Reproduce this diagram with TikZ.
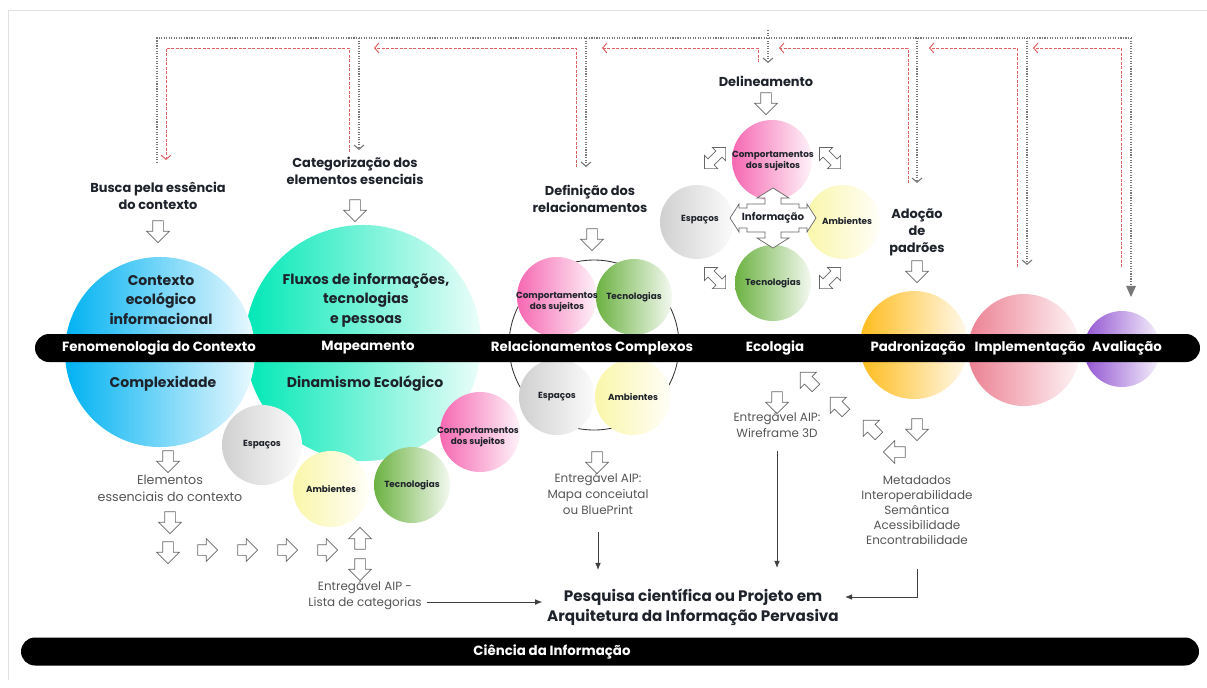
\documentclass[tikz,border=0pt]{standalone}
\usepackage{fontspec}
\setmainfont{Poppins}
\usetikzlibrary{arrows.meta,positioning,shapes.geometric,shapes.arrows,calc}
\definecolor{ink}{RGB}{30,34,42}
\definecolor{soft}{RGB}{85,85,85}
\definecolor{loopred}{RGB}{222,95,95}
\definecolor{loopgray}{RGB}{120,120,120}
\definecolor{ctxblue}{RGB}{0,178,242}
\definecolor{mapteal}{RGB}{0,232,182}
\definecolor{spgray}{RGB}{208,208,208}
\definecolor{ambyel}{RGB}{250,246,170}
\definecolor{tecgreen}{RGB}{108,178,66}
\definecolor{cmppink}{RGB}{246,104,178}
\definecolor{padorange}{RGB}{255,188,28}
\definecolor{improse}{RGB}{236,128,146}
\definecolor{avlviolet}{RGB}{146,84,210}
\tikzset{
  ball/.style 2 args = {circle, inner sep=0pt, minimum size=#1*0.05cm, left color=#2, right color=#2!8!white},
  tag/.style = {align=center, text=ink, font=\bfseries\fontsize{6.3}{8}\selectfont},
  title/.style = {align=center, text=ink, font=\bfseries\fontsize{10}{14}\selectfont},
  cue/.style = {align=center, text=ink, font=\bfseries\fontsize{9.2}{12}\selectfont},
  note/.style = {align=center, text=soft, font=\fontsize{8.5}{11.3}\selectfont},
  band/.style = {rectangle, fill=black, rounded corners=0.35cm, inner sep=0pt, minimum height=0.7cm},
  bandlabel/.style = {text=white, font=\bfseries\fontsize{9.5}{11}\selectfont},
  hollow/.style = {single arrow, draw=black!60, fill=white, line width=0.5pt, inner xsep=0pt, inner ysep=5*0.025cm,
    minimum height=22*0.025cm, single arrow head extend=6*0.025cm},
  pointdown/.style = {hollow, rotate=-90},
  pointright/.style = {hollow},
  pointup/.style = {hollow, rotate=90},
  pointleft/.style = {hollow, rotate=180},
  pointnw/.style = {hollow, rotate=135},
  twoway/.style = {double arrow, draw=black!60, fill=white, line width=0.5pt, inner xsep=0pt, inner ysep=4*0.025cm,
    minimum height=30*0.025cm, double arrow head extend=5*0.025cm},
  loopg/.style = {draw=loopgray, line width=0.8pt, dash pattern=on 0.8pt off 1pt},
  loopr/.style = {draw=loopred, line width=0.7pt, dash pattern=on 2pt off 1.2pt},
  barb/.style = {-{Straight Barb[length=3pt,width=7pt]}},
  feed/.style = {draw=black!75, line width=0.6pt, -{Latex[length=5pt,width=4pt]}},
}
\begin{document}
\begin{tikzpicture}[x=0.025cm, y=-0.025cm]
\useasboundingbox (0,0) rectangle (1207,687);
\draw[black!12] (8,680) -- (8,10) -- (1207,10);

% retornos
\draw[loopg] (157,163) -- (157,38) -- (1131,38);
\draw[loopg] (768,30) -- (768,38);
\foreach \gx/\gy [count=\i] in {359/150, 586/167, 768/63, 917/183, 1027/265} {
  \coordinate (drop\i) at (\gx,\gy);
  \draw[loopg, barb, draw=loopgray] (\gx,38) -- (drop\i);
}
\coordinate (lastdrop) at (1131,297);
\draw[loopg, -{Triangle[length=8pt,width=7pt]}] (1131,38) -- (lastdrop);
\coordinate (firstback) at (166,160);
\draw[loopr, barb] (349,152) -- (349,48) -- (166,48) -- (firstback);
\foreach \rx/\ry/\rt [count=\i] in {576/167/374, 758/62/602, 908/183/779, 1017/267/929, 1121/267/1033} {
  \coordinate (back\i) at (\rt,48);
  \draw[loopr, barb] (\rx,\ry) -- (\rx,48) -- (back\i);
}

\node[cue] (busca) at (158,195.5) {Busca pela essência\\do contexto};
\node[cue] (categ) at (355,170.5) {Categorização dos\\elementos esenciais};
\node[cue] (defin) at (590,198.5) {Definição dos\\relacionamentos};
\node[cue] (delin) at (766,81) {Delineamento};
\node[cue] (adocao) at (917,232) {Adoção\\de\\padrões};
\node[pointdown] (buscaarr) at (158,229) {};
\node[pointdown] (categarr) at (355,208) {};
\node[pointdown] (definarr) at (592,237) {};
\node[pointdown] (delinarr) at (766,101) {};
\node[pointdown] (adocaoarr) at (917,269) {};

% fases
\node[ball={118}{mapteal}] (mapblob) at (363,343) {};
\node[ball={95}{ctxblue}] (ctxblob) at (160,352) {};
\node[ball={40}{spgray}] (mapesp) at (262,445) {};
\node[ball={38}{ambyel}] (mapamb) at (331,489) {};
\node[ball={40}{cmppink}] (mapcmp) at (480,432) {};
\node[ball={38}{tecgreen}] (maptec) at (412,485) {};

\node[circle, draw=black!80, line width=0.6pt, minimum size=170*0.025cm] (relring) at (594,345) {};
\node[ball={40}{cmppink}] (relcmp) at (557,297) {};
\node[ball={38}{tecgreen}] (reltec) at (634,297) {};
\node[ball={38}{spgray}] (relesp) at (557,397) {};
\node[ball={38}{ambyel}] (relamb) at (633,397) {};

\node[ball={40}{cmppink}] (ecocmp) at (772,160) {};
\node[ball={37}{spgray}] (ecoesp) at (697,222) {};
\node[ball={37}{ambyel}] (ecoamb) at (843,222) {};
\node[ball={38}{tecgreen}] (ecotec) at (773,283) {};

\node[ball={56}{improse}] (impblob) at (1024,350) {};
\node[ball={54}{padorange}] (padblob) at (914,345) {};
\node[ball={38}{avlviolet}] (avlblob) at (1122,349) {};

\node[tag] (mapesptxt) at (mapesp) {Espaços};
\node[tag] (mapambtxt) at (mapamb) {Ambientes};
\node[tag] (maptectxt) at (maptec) {Tecnologias};
\node[tag] (mapcmptxt) at (478,437) {Comportamentos\\dos sujeitos};
\node[tag] (relcmptxt) at (557,302) {Comportamentos\\dos sujeitos};
\node[tag] (reltectxt) at (reltec) {Tecnologias};
\node[tag] (relesptxt) at (relesp) {Espaços};
\node[tag] (relambtxt) at (relamb) {Ambientes};
\node[tag] (ecocmptxt) at (773,161) {Comportamentos\\dos sujeitos};
\node[tag] (ecoesptxt) at (700,220) {Espaços};
\node[tag] (ecoambtxt) at (847,221) {Ambientes};
\node[tag] (ecotectxt) at (ecotec) {Tecnologias};

\draw[draw=black!60, fill=white, line width=0.5pt, shift={(773,218)}]
  (0,-30) -- (16,-20) -- (8,-20) -- (8,-14) -- (26,-14) -- (26,-10) -- (34,-10) -- (34,-14)
  -- (43,0) -- (34,14) -- (34,10) -- (26,10) -- (26,14) -- (8,14) -- (8,20) -- (16,20)
  -- (0,30) -- (-16,20) -- (-8,20) -- (-8,14) -- (-26,14) -- (-26,10) -- (-34,10) -- (-34,14)
  -- (-43,0) -- (-34,-14) -- (-34,-10) -- (-26,-10) -- (-26,-14) -- (-8,-14) -- (-8,-20) -- (-16,-20) -- cycle;
\node[tag, font=\bfseries\fontsize{7.3}{9}\selectfont] (info) at (773,218) {Informação};
\node[twoway, rotate=45] (ecoa) at (715,158) {};
\node[twoway, rotate=-45] (ecob) at (830,158) {};
\node[twoway, rotate=-45] (ecoc) at (715,278) {};
\node[twoway, rotate=45] (ecod) at (830,278) {};

\node[title] (ctxtitle) at (161,300) {Contexto\\ecológico\\informacional};
\node[title] (ctxsub) at (163,384) {Complexidade};
\node[title] (maptitle) at (366,300) {Fluxos de informações,\\tecnologias\\e pessoas};
\node[title] (mapsub) at (365,384) {Dinamismo Ecológico};

\node[band, minimum width=1165*0.025cm] (axis) at (617.5,348) {};
\node[bandlabel] (fenom) at (159,348) {Fenomenologia do Contexto};
\node[bandlabel] (mapea) at (368,348) {Mapeamento};
\node[bandlabel] (relac) at (592,348) {Relacionamentos Complexos};
\node[bandlabel] (ecolo) at (775,348) {Ecologia};
\node[bandlabel] (padro) at (918,348) {Padronização};
\node[bandlabel] (imple) at (1030,348) {Implementação};
\node[bandlabel] (avali) at (1127,348) {Avaliação};

% entregaveis
\node[pointdown] (ctxarr) at (168,459) {};
\node[note, font=\fontsize{9}{12}\selectfont] (elem) at (170,488) {Elementos\\essenciais do contexto};
\node[pointdown] (elemarr) at (170,520) {};
\node[pointdown] (flow0) at (168,550) {};
\foreach \x [count=\i] in {205,245,285,325}
  \node[pointright, minimum height=20*0.025cm] (flow\i) at (\x,550) {};
\node[pointup] (flowup) at (360,541) {};
\node[pointdown] (flowdown) at (360,567) {};
\node[note] (lista) at (365,595) {Entregável AIP -\\Lista de categorias};

\node[pointdown] (maparr) at (597,460) {};
\node[note] (mapa) at (598,494) {Entregável AIP:\\Mapa conceiutal\\ou BluePrint};
\node[pointdown] (wirearr) at (777,400) {};
\node[note] (wire) at (777,425) {Entregável AIP:\\Wireframe 3D};

\node[pointnw] (padin1) at (810,382) {};
\node[pointnw] (padin2) at (840,407) {};
\node[pointnw] (padin3) at (873,430) {};
\node[pointleft] (padin4) at (897,452) {};
\node[pointdown] (padout) at (917,427) {};
\node[note, font=\fontsize{8.5}{10.6}\selectfont] (meta) at (917,510) {Metadados\\Interoperabilidade\\Semântica\\Acessibilidade\\Encontrabilidade};

\node[cue, font=\bfseries\fontsize{10.8}{14}\selectfont] (pesquisa) at (693,607) {Pesquisa científica ou Projeto em\\Arquitetura da Informação Pervasiva};
\coordinate (metaend) at (845,597);
\draw[feed] ([yshift=-5pt]lista.east) -- ([yshift=-5pt]lista.east -| pesquisa.west);
\draw[feed, shorten <=0.3cm] (mapa.south) -- (mapa.south |- 0,570);
\draw[feed, shorten <=0.2cm] (wire.south) -- (wire.south |- 0,568);
\draw[feed, shorten <=0.5cm] (meta.south) |- (metaend);

\node[band, minimum width=1178*0.025cm] (base) at (610,651.5) {};
\node[bandlabel] (ciencia) at (552,652) {Ciência da Informação};
\end{tikzpicture}
\end{document}
